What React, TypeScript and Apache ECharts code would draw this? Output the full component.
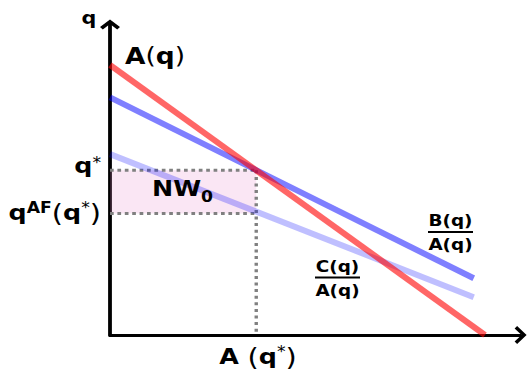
import React, { useEffect, useRef } from "react";
import * as echarts from "echarts";

// Conceptual line data (x = A, y = q)
const lineA = [[0, 10], [10, 0]];
const lineB = [[0, 8.8], [9.7, 2.1]];
const lineC = [[0, 6.7], [9.7, 1.4]];
const qStar = 6.1;
const qAF = 4.5;
const aStar = 3.9;
const xMax = 10.95;
const yMax = 11.5;

export default function App() {
  const ref = useRef<HTMLDivElement>(null);
  useEffect(() => {
    const chart = echarts.init(ref.current!, null, { renderer: "svg" });
    const font = "'DejaVu Sans', sans-serif";
    const arrowY = "path://M0,7.5 L10,0 L20,7.5 L17.2,10 L10,4.6 L2.8,10 Z";
    const arrowX = "path://M0,9.5 L9,0 L18,9.5 L15.6,12 L9,5 L2.4,12 Z";
    const axisBase = (arrow: string, size: number[], width: number): any => ({
      type: "value",
      min: 0,
      axisLine: {
        show: true,
        onZero: false,
        symbol: ["none", arrow],
        symbolSize: size,
        lineStyle: { color: "#000", width },
      },
      axisTick: { show: false },
      axisLabel: { show: false },
      splitLine: { show: false },
    });
    const SX = 1.15;
    const rich = (size: number) => ({
      b: { fontFamily: font, fontWeight: "bold", fontSize: size, color: "#000" },
      r: { fontFamily: font, fontWeight: "normal", fontSize: size, color: "#000" },
      p: { fontFamily: font, fontWeight: "normal", fontSize: size + 3, color: "#000" },
      sup: { fontFamily: font, fontWeight: "normal", fontSize: Math.round(size * 0.7), color: "#000", verticalAlign: "top" as const, lineHeight: size * 0.7 },
      supb: { fontFamily: font, fontWeight: "bold", fontSize: Math.round(size * 0.7), color: "#000", verticalAlign: "top" as const, lineHeight: size * 0.7 },
      sub: { fontFamily: font, fontWeight: "bold", fontSize: Math.round(size * 0.7), color: "#000", verticalAlign: "bottom" as const, lineHeight: size * 0.7, padding: [0, 0, -4, 0] },
    });
    const txt = (x: number, y: number, text: string, size: number, align: string) => ({
      type: "text",
      x,
      y,
      scaleX: SX,
      z: 100,
      style: {
        text,
        align,
        verticalAlign: "middle",
        rich: rich(size),
        fontFamily: font,
        fontSize: size,
      },
    });
    const frac = (cx: number, ly: number, num: string, den: string) => [
      txt(cx, ly - 11.5, num, 16, "center"),
      txt(cx, ly + 12.5, den, 16, "center"),
      { type: "rect", z: 100, shape: { x: cx - 22.5, y: ly - 0.9, width: 45, height: 1.8 }, style: { fill: "#000" } },
    ];
    const dotH = { color: "#808080", width: 3, type: [3.7, 3.7] };
    chart.setOption({
      animation: false,
      grid: { left: 110, right: 6.4, top: 24.5, bottom: 39, containLabel: false },
      xAxis: { ...axisBase(arrowX, [18, 12], 3.2), max: xMax },
      yAxis: { ...axisBase(arrowY, [20, 10], 3.8), max: yMax },
      series: [
        {
          type: "custom",
          z: 1,
          renderItem: (params: any, api: any) => {
            const p0 = api.coord([api.value(0), api.value(1)]);
            const p1 = api.coord([api.value(2), api.value(3)]);
            return {
              type: "rect",
              shape: { x: p0[0], y: p1[1], width: p1[0] - p0[0], height: p0[1] - p1[1] },
              style: { fill: "rgba(230,130,200,0.2)" },
            };
          },
          encode: { x: [0, 2], y: [1, 3] },
          data: [[0, qAF, aStar, qStar]],
        },
        {
          type: "line",
          z: 2,
          symbol: "none",
          data: [[0, qStar], [aStar, qStar]],
          lineStyle: dotH,
        },
        {
          type: "line",
          z: 2,
          symbol: "none",
          data: [[0, qAF], [aStar, qAF]],
          lineStyle: dotH,
        },
        {
          type: "line",
          z: 2,
          symbol: "none",
          data: [[aStar, qStar], [aStar, 0]],
          lineStyle: { color: "#808080", width: 3.4, type: [3, 3.6] },
        },
        {
          type: "line",
          z: 3,
          symbol: "none",
          data: lineC,
          lineStyle: { color: "rgba(0,0,255,0.25)", width: 6 },
        },
        {
          type: "line",
          z: 3,
          symbol: "none",
          data: lineB,
          lineStyle: { color: "rgba(0,0,255,0.5)", width: 6 },
        },
        {
          type: "line",
          z: 3,
          symbol: "none",
          data: lineA,
          lineStyle: { color: "rgba(255,0,0,0.6)", width: 6 },
        },
      ],
      graphic: [
        txt(89, 17.5, "{b|q}", 18, "center"),
        txt(125, 56, "{b|A}{r|(}{b|q}{r|)}", 23, "left"),
        txt(101, 166, "{b|q}{sup|*}", 22, "right"),
        txt(101, 213, "{b|q}{supb|AF}{p|(}{b|q}{sup|*}{p|)}", 22, "right"),
        txt(152, 189, "{b|NW}{sub|0}", 22, "left"),
        txt(258, 357, "{b|A }{p|(}{b|q}{sup|*}{p|)}", 22, "center"),
        ...frac(450.5, 232, "{b|B(q)}", "{b|A(q)}"),
        ...frac(337.5, 277.5, "{b|C(q)}", "{b|A(q)}"),
      ],
    });
    return () => chart.dispose();
  }, []);
  return (
    <div
      ref={ref}
      style={{ position: "fixed", left: 0, top: 0, width: 527, height: 374, background: "#fff" }}
    />
  );
}
